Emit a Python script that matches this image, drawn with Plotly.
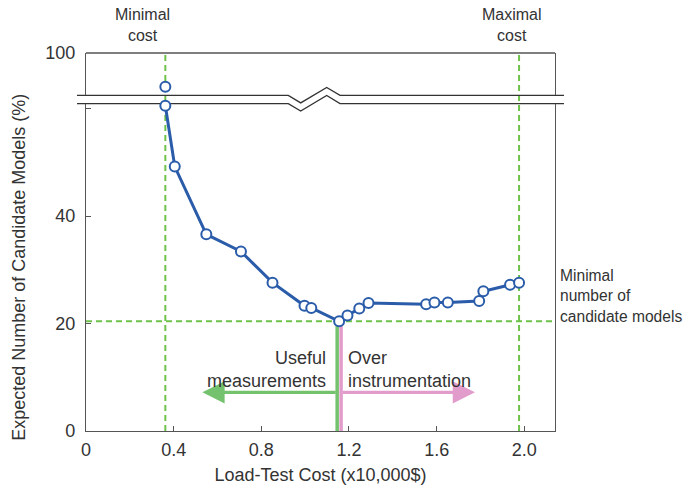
import plotly.graph_objects as go

# ---------------- data ----------------
cost_top = [0.362]
models_top = [93.7]

cost = [0.362, 0.405, 0.549, 0.707, 0.851, 0.997, 1.028, 1.155, 1.193, 1.247,
        1.289, 1.552, 1.590, 1.651, 1.794, 1.813, 1.935, 1.976]
models = [60.5, 49.2, 36.6, 33.4, 27.6, 23.3, 22.9, 20.4, 21.5, 22.8,
          23.8, 23.6, 23.9, 23.9, 24.2, 26.0, 27.2, 27.6]

min_cost = 0.362
max_cost = 1.976
min_models = 20.4
useful_x = 1.146
over_x = 1.164
arrow_y = 7.2
useful_arrow_end = 0.531
over_arrow_end = 1.775

x_ticks = [0, 0.4, 0.8, 1.2, 1.6, 2.0]
x_ticktext = ["0", "0.4", "0.8", "1.2", "1.6", "2.0"]
y_ticks = [0, 20, 40, 60]
y_ticktext = ["0", "20", "40", ""]
y2_ticks = [100]
y2_ticktext = ["100"]

# ---------------- style ----------------
FONT = "Liberation Sans, Arial, Helvetica, sans-serif"
TXT = "#333333"
AX = "#555555"
BLUE = "#2a5caa"
GREEN_D = "#6cc24a"
GREEN = "#74c26e"
PINK = "#e29ccb"

W, H = 689, 493
L, R, T, B = 86, 134, 53, 59
PW = W - L - R
PH = H - T - B

def px(xp):
    return (xp - L) / PW

def py(yp):
    return (H - B - yp) / PH

fig = go.Figure()

fig.add_trace(go.Scatter(
    x=cost, y=models, mode="lines+markers", xaxis="x", yaxis="y",
    line=dict(color=BLUE, width=3),
    marker=dict(size=10, color="white", line=dict(color=BLUE, width=2)),
    cliponaxis=False, showlegend=False, hoverinfo="skip"))

fig.add_trace(go.Scatter(
    x=cost_top, y=models_top, mode="markers", xaxis="x", yaxis="y2",
    marker=dict(size=10, color="white", line=dict(color=BLUE, width=2)),
    cliponaxis=False, showlegend=False, hoverinfo="skip"))

shapes = []
# green dashed guide lines
for xv in (min_cost, max_cost):
    shapes.append(dict(type="line", xref="x", yref="paper", x0=xv, x1=xv, y0=0, y1=1,
                       line=dict(color=GREEN_D, width=2, dash="6px,4px"), layer="below"))
shapes.append(dict(type="line", xref="paper", yref="y", x0=0, x1=1, y0=min_models, y1=min_models,
                   line=dict(color=GREEN_D, width=2, dash="6px,4px"), layer="below"))
# vertical split lines
shapes.append(dict(type="line", xref="x", yref="y", x0=useful_x, x1=useful_x, y0=0, y1=min_models,
                   line=dict(color=GREEN, width=3.5), layer="below"))
shapes.append(dict(type="line", xref="x", yref="y", x0=over_x, x1=over_x, y0=0, y1=min_models,
                   line=dict(color=PINK, width=3.5), layer="below"))
# top spine
shapes.append(dict(type="line", xref="paper", yref="paper", x0=0, x1=1, y0=1, y1=1,
                   line=dict(color=AX, width=1.3)))
# axis break lines with zigzag
xl, xr = px(77), px(564)
z1, z2, z3, z4 = px(288.3), px(300.7), px(326.7), px(340)
for base, off in ((95.7, 0), (104, 8.2)):
    pts = [(xl, py(base)), (z1, py(base)), (z2, py(103.3 + off)), (z3, py(87.7 + off)),
           (z4, py(base)), (xr, py(base))]
    path = "M " + " L ".join(f"{a:.5f},{b:.5f}" for a, b in pts)
    shapes.append(dict(type="path", xref="paper", yref="paper", path=path,
                       line=dict(color="#333333", width=1.3), layer="below"))

annotations = [
    dict(x=useful_arrow_end, y=arrow_y, ax=useful_x, ay=arrow_y, xref="x", yref="y",
         axref="x", ayref="y", showarrow=True, arrowhead=2, arrowsize=1.35,
         arrowwidth=3.3, arrowcolor=GREEN, text=""),
    dict(x=over_arrow_end, y=arrow_y, ax=over_x, ay=arrow_y, xref="x", yref="y",
         axref="x", ayref="y", showarrow=True, arrowhead=2, arrowsize=1.35,
         arrowwidth=3.3, arrowcolor=PINK, text=""),
    dict(x=1.102, y=11.4, xref="x", yref="y", text="Useful<br>measurements",
         showarrow=False, xanchor="right", yanchor="middle", align="right",
         font=dict(family=FONT, size=18, color=TXT)),
    dict(x=1.187, y=11.4, xref="x", yref="y", text="Over<br>instrumentation",
         showarrow=False, xanchor="left", yanchor="middle", align="left",
         font=dict(family=FONT, size=18, color=TXT)),
    dict(x=px(558), y=25.2, xref="paper", yref="y",
         text="Minimal<br>number of<br>candidate models",
         showarrow=False, xanchor="left", yanchor="middle", align="left",
         font=dict(family=FONT, size=15.6, color=TXT)),
    dict(x=0.2575, y=py(25), xref="x", yref="paper", text="Minimal<br>cost",
         showarrow=False, xanchor="center", yanchor="middle", align="center",
         font=dict(family=FONT, size=16, color=TXT)),
    dict(x=1.944, y=py(25), xref="x", yref="paper", text="Maximal<br>cost",
         showarrow=False, xanchor="center", yanchor="middle", align="center",
         font=dict(family=FONT, size=16, color=TXT)),
]

fig.update_layout(
    width=W, height=H,
    margin=dict(l=L, r=R, t=T, b=B, pad=0),
    paper_bgcolor="white", plot_bgcolor="white",
    font=dict(family=FONT, color=TXT, size=18),
    showlegend=False,
    xaxis=dict(range=[0, 2.14], tickvals=x_ticks, ticktext=x_ticktext,
               ticks="inside", ticklen=5, tickcolor=AX, tickwidth=1,
               showline=True, linecolor=AX, linewidth=1.3, mirror=False,
               showgrid=False, zeroline=False, anchor="y",
               tickfont=dict(size=18, color=TXT), ticklabelstandoff=2,
               title=dict(text="Load-Test Cost (x10,000$)", font=dict(size=18, color=TXT),
                          standoff=9)),
    yaxis=dict(domain=[0, py(104)], range=[0, 330 / 5.417],
               tickvals=y_ticks, ticktext=y_ticktext,
               ticks="inside", ticklen=5, tickcolor=AX, tickwidth=1,
               showline=True, linecolor=AX, linewidth=1.3, mirror=True,
               showgrid=False, zeroline=False, anchor="x",
               tickfont=dict(size=18, color=TXT), ticklabelstandoff=6,
               title=dict(text="Expected Number of Candidate Models (%)",
                          font=dict(size=18, color=TXT), standoff=24)),
    yaxis2=dict(domain=[py(95.7), 1], range=[100 - (95.7 - T) / 5.417, 100],
                tickvals=y2_ticks, ticktext=y2_ticktext,
                ticks="inside", ticklen=5, tickcolor=AX, tickwidth=1,
                showline=True, linecolor=AX, linewidth=1.3, mirror=True,
                showgrid=False, zeroline=False, anchor="x",
                tickfont=dict(size=18, color=TXT), ticklabelstandoff=6),
    shapes=shapes,
    annotations=annotations,
)

fig.write_html("out.html", config={"displayModeBar": False},
               post_script="document.body.style.margin='0';")
